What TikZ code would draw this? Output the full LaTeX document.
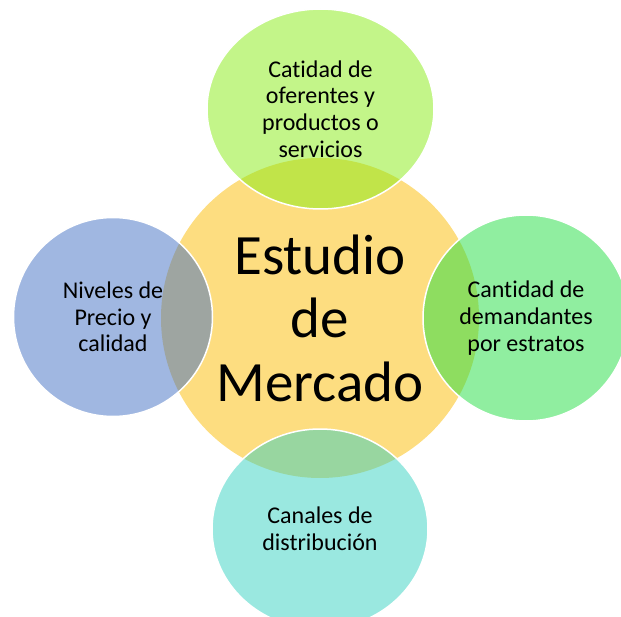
\documentclass[tikz,border=0pt]{standalone}
\usepackage{fontspec}
\setmainfont{Carlito}[Ligatures={NoCommon,NoRequired,NoContextual}]
\usetikzlibrary{shapes.geometric}
\definecolor{coreyellow}{RGB}{253,221,128}
\definecolor{topgreen}{RGB}{135,235,19}
\definecolor{leftblue}{RGB}{65,111,195}
\definecolor{rightgreen}{RGB}{33,221,65}
\definecolor{bottomteal}{RGB}{53,209,193}
\begin{document}
\begin{tikzpicture}[x=1pt,y=-1pt,
  bubble/.style={ellipse, inner sep=0pt, fill opacity=0.5, text opacity=1,
    draw=white, line width=1.5pt, align=center,
    font=\fontsize{24}{26.7}\selectfont},
  corestyle/.style={ellipse, inner sep=0pt, fill=coreyellow},
  coretext/.style={align=center, inner sep=0pt, font=\fontsize{57}{63.5}\selectfont}]
\useasboundingbox (0,0) rectangle (621,617);
\clip (0,0) rectangle (621,617);
\node[corestyle, minimum width=318pt, minimum height=320pt] (core) at (320,318) {};
\node[bubble, fill=topgreen, minimum width=227pt, minimum height=200pt] (top) at (320.5,109)
  {Catidad de\\oferentes y\\productos o\\servicios};
\node[bubble, fill=leftblue, minimum width=199pt, minimum height=199pt] (left) at (113,317)
  {Niveles de\\Precio y\\calidad};
\node[bubble, fill=rightgreen, minimum width=206pt, minimum height=206pt] (right) at (526,318)
  {Cantidad de\\demandantes\\por estratos};
\node[bubble, fill=bottomteal, minimum width=216pt, minimum height=200pt] (bottom) at (320,529)
  {Canales de\\distribución};
\node[coretext] (label) at (core.center) {Estudio\\de\\Mercado};
\end{tikzpicture}
\end{document}
